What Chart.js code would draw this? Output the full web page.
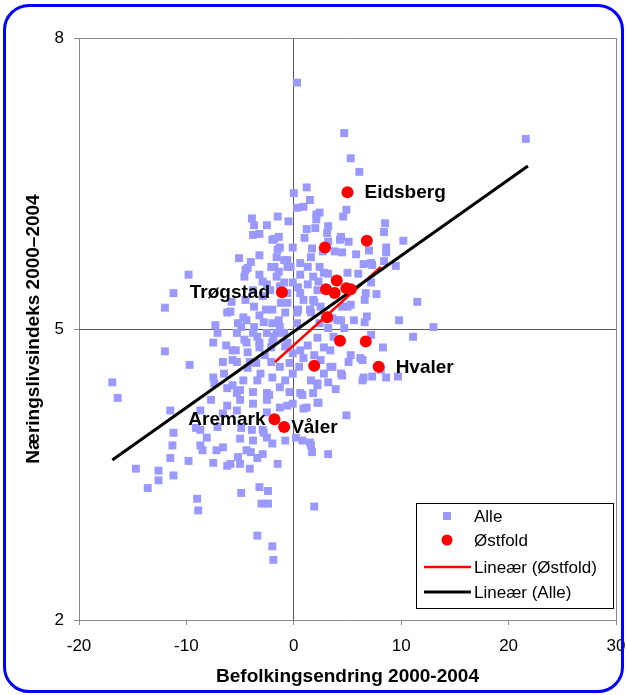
<!DOCTYPE html>
<html>
<head>
<meta charset="utf-8">
<script src="https://cdn.jsdelivr.net/npm/chart.js@4/dist/chart.umd.min.js"></script>
<style>
  html, body { margin: 0; padding: 0; background: #fff; }
  #wrap { position: relative; width: 627px; height: 695px; }
  #c { position: absolute; left: 0; top: 0; }
  #frame { position: absolute; left: 3px; top: 4px; width: 615px; height: 683px;
           border: 3px solid #0000FF; border-radius: 26px; pointer-events: none; }
</style>
</head>
<body>
<div id="wrap">
  <canvas id="c" width="627" height="695"></canvas>
  <div id="frame"></div>
</div>
<script>
// ---- Data ----
const xTitle = 'Befolkingsendring 2000-2004';
const yTitle = 'Næringslivsindeks 2000–2004';
const xTicks = [-20, -10, 0, 10, 20, 30];
const yTicks = [2, 5, 8];

const alleX = [
 0.3,4.7,21.6,5.3,6.1,0.0,1.2,1.5,0.3,0.9,
 4.9,4.6,2.4,2.1,-1.5,-0.5,8.5,8.4,10.2,3.2,
 1.2,3.1,1.0,4.4,5.1,3.2,-1.8,8.6,8.6,7.0,
 9.5,8.4,5.8,6.5,7.3,11.5,9.8,13.0,7.2,7.7,
 6.6,6.6,5.6,5.0,4.1,2.7,2.8,1.6,-0.3,-0.9,
 -2.1,-3.9,-3.7,-2.5,-3.8,2.1,2.0,-1.4,-1.3,4.3,
 -5.1,-3.2,-4.0,-1.6,-0.1,1.7,4.5,-9.8,-11.2,-12.0,
 -4.6,-3.2,-1.8,-0.6,0.6,1.8,2.4,-2.5,-3.8,-5.8,
 -6.2,-7.3,-5.2,-4.4,-3.2,-2.0,-0.8,0.3,1.5,1.8,
 0.6,-0.6,-0.1,-1.6,-3.8,-2.5,-1.3,2.4,3.6,4.5,
 -12.0,-9.7,-16.9,-16.4,-11.5,-7.5,-7.1,-7.5,-5.3,-5.7,
 -6.6,-5.3,-4.1,-2.7,-4.4,-3.2,-2.0,-0.6,-1.6,-0.1,
 -0.4,-0.1,-2.0,-3.4,-4.7,-6.2,-5.0,-3.8,-2.5,-1.3,
 -0.4,0.6,1.8,2.2,1.2,-0.1,-1.3,-2.5,-3.8,-5.0,
 -6.2,-6.6,-2.5,4.9,-8.7,-11.2,-11.3,-11.5,-9.8,-8.7,
 -8.1,-8.7,-8.5,-7.2,-6.6,-7.5,-6.2,-5.0,-4.1,-3.4,
 -4.4,-5.0,-3.8,-2.5,-2.0,-0.8,-2.9,-1.5,1.5,1.7,
 3.2,-14.7,-12.6,-12.6,-11.2,-13.6,-9.0,-8.9,-4.9,-3.2,
 -2.4,-3.0,-2.4,1.9,-3.4,-2.0,-1.9,11.1,8.3,5.3,
 6.4,5.1,3.4,4.5,6.4,7.3,8.6,9.7,2.2,3.9,
 3.2,2.3,0.9,0.8,1.6,-5.9,-4.7,-3.7,-2.6,-4.9,
 -3.7,-3.4,-4.6,-5.4,-4.3,-3.2,-2.1,-1.9,-2.1,-3.5,
 -4.3,-6.5,-1.2,-1.4,-0.9,0.4,1.3,2.2,0.9,1.9,
 0.4,1.6,2.5,5.3,4.4,3.2,2.2,1.3,2.8,0.9,
 1.9,6.2,7.2,0.5,3.6,2.8,4.4,6.5,3.2,6.0,
 5.0,1.3,3.8,7.2,-4.5,-2.0,-1.5,-1.4,-0.6,-5.7,
 -2.3,-0.6,0.8,2.2,-9.1,-7.1,-4.9,-2.8,0.2,-5.2,
 -4.0,-5.9,-7.7,-5.3,0.6,2.3,-0.9,-2.9,-4.5,-2.0,
 -2.8,-5.3,-3.9,-1.3,-5.7,-3.1,-0.8,6.7,6.8,4.7,
 3.7,3.4,8.1,-7.4,-2.9,-3.2,-4.3,-1.3,-2.9,-0.6,
 -2.2,0.3,-0.8,0.6,-6.3,1.6,2.5
];
const alleY = [
 7.54,7.02,6.96,6.76,6.62,6.40,6.46,6.33,6.25,6.26,
 6.23,6.16,6.20,6.13,6.16,6.11,6.09,6.00,5.91,6.06,
 6.03,5.99,5.94,5.95,5.90,5.90,5.93,5.84,5.79,5.81,
 5.65,5.70,5.77,5.67,5.66,5.28,5.09,5.02,5.48,5.36,
 5.30,5.07,5.09,5.23,5.09,5.80,5.58,5.74,5.64,5.71,
 5.64,6.14,6.07,6.07,5.97,6.18,6.04,5.95,5.84,5.92,
 5.73,5.76,5.69,5.74,5.84,5.83,5.79,5.56,5.37,5.22,
 5.54,5.56,5.64,5.64,5.68,5.54,5.64,5.46,5.40,5.28,
 5.17,5.04,5.06,5.09,5.14,5.20,5.17,5.17,5.20,5.30,
 5.37,5.37,5.48,5.54,4.96,4.96,5.02,5.06,5.11,5.23,
 4.77,4.63,4.45,4.29,4.16,4.50,4.96,4.86,4.96,4.78,
 4.66,4.66,4.66,4.73,4.86,4.86,4.86,4.86,4.96,4.75,
 4.65,4.54,4.50,4.47,4.47,4.39,4.37,4.35,4.34,4.40,
 4.35,4.34,4.34,4.24,4.19,4.23,4.19,4.27,4.23,4.27,
 4.21,4.13,4.14,4.11,4.16,3.93,3.80,3.67,3.64,3.96,
 3.88,3.80,3.75,3.75,3.78,3.62,3.59,3.61,3.56,3.67,
 3.75,3.87,3.85,3.88,3.82,3.85,3.96,3.61,3.83,3.73,
 3.71,3.56,3.54,3.44,3.49,3.36,3.25,3.13,3.31,3.37,
 3.33,3.20,3.20,3.17,2.87,2.76,2.62,4.92,4.81,4.73,
 4.68,4.66,4.61,4.52,4.47,4.51,4.50,4.51,4.44,4.38,
 4.45,4.24,4.18,3.85,3.80,5.18,5.12,5.23,5.20,5.02,
 5.02,4.92,4.89,4.78,4.76,4.81,4.81,4.92,4.66,4.65,
 4.60,4.54,5.27,5.09,4.96,5.43,5.46,5.40,5.30,5.28,
 5.20,5.17,5.23,5.25,5.09,5.01,4.91,4.83,4.81,4.70,
 4.73,4.70,4.94,4.61,4.61,4.54,4.54,4.50,5.57,5.57,
 5.58,5.64,5.80,5.68,5.61,5.92,5.82,5.59,5.71,4.42,
 4.32,4.21,4.32,4.42,3.98,3.99,3.98,3.93,3.88,3.68,
 3.73,3.61,4.27,4.34,5.56,5.49,5.48,5.34,5.30,5.06,
 5.07,4.16,3.96,4.61,4.68,4.54,4.82,5.37,5.13,5.01,
 4.92,4.78,4.58,4.44,3.71,5.98,5.63,5.44,5.49,5.27,
 5.40,5.06,4.47,4.78,4.83,4.47,4.68
];

const ostfoldX = [5.0, 6.8, 2.9, -1.1, 4.0, 3.0, 3.8, 4.9, 5.3, 3.1, 4.3, 6.7, 1.9, 7.9, -1.8, -0.9];
const ostfoldY = [6.41, 5.91, 5.84, 5.38, 5.50, 5.41, 5.37, 5.42, 5.41, 5.12, 4.88, 4.87, 4.62, 4.61, 4.07, 3.99];
const ostfoldNames = ['Eidsberg','','','Trøgstad','','','','','','','','','','Hvaler','Aremark','Våler'];

// trend lines: end points
const trendAlleX = [-16.9, 21.8];
const trendAlleY = [3.65, 6.68];
const trendOstX = [-1.75, 8.1];
const trendOstY = [4.66, 5.64];

// ---- Styles ----
const FONT = '"Liberation Sans", Arial, Helvetica, sans-serif';
Chart.defaults.font.family = FONT;
Chart.defaults.color = '#000';

const labelPlacement = {
  'Eidsberg': { side: 'right', gap: 17 },
  'Trøgstad': { side: 'left',  gap: 12 },
  'Hvaler':   { side: 'right', gap: 17 },
  'Aremark':  { side: 'left',  gap: 9 },
  'Våler':    { side: 'right', gap: 7 }
};

const toPts = (xs, ys) => xs.map((x, i) => ({ x, y: ys[i] }));

const pointLabelPlugin = {
  id: 'pointLabels',
  afterDatasetsDraw(chart) {
    const idx = chart.data.datasets.findIndex(d => d.label === 'Østfold');
    const meta = chart.getDatasetMeta(idx);
    const ctx = chart.ctx;
    ctx.save();
    ctx.font = 'bold 19px ' + FONT;
    ctx.fillStyle = '#000';
    ctx.textBaseline = 'middle';
    ostfoldNames.forEach((name, i) => {
      if (!name) return;
      const el = meta.data[i];
      const p = labelPlacement[name];
      if (p.side === 'right') { ctx.textAlign = 'left'; ctx.fillText(name, el.x + p.gap, el.y + 1); }
      else { ctx.textAlign = 'right'; ctx.fillText(name, el.x - p.gap, el.y + 1); }
    });
    ctx.restore();
  }
};

const legendPlugin = {
  id: 'boxLegend',
  afterDraw(chart) {
    const { ctx, chartArea: a } = chart;
    const w = 197, h = 105, x = a.right - 3 - w, y = a.bottom - 12 - h;
    ctx.save();
    ctx.fillStyle = '#fff';
    ctx.fillRect(x, y, w, h);
    ctx.strokeStyle = '#000';
    ctx.lineWidth = 1;
    ctx.strokeRect(Math.round(x) + 0.5, Math.round(y) + 0.5, w, h);
    const order = ['Alle', 'Østfold', 'Lineær (Østfold)', 'Lineær (Alle)'];
    const rows = [13, 37, 64, 89];
    ctx.font = '17px ' + FONT;
    ctx.textBaseline = 'middle';
    ctx.textAlign = 'left';
    order.forEach((lab, i) => {
      const ds = chart.data.datasets.find(d => d.label === lab);
      const cy = y + rows[i], cx = x + 31;
      if (ds.type === 'line') {
        ctx.strokeStyle = ds.borderColor;
        ctx.lineWidth = ds.borderWidth;
        ctx.beginPath(); ctx.moveTo(x + 8, cy); ctx.lineTo(x + 55, cy); ctx.stroke();
      } else if (ds.pointStyle === 'rect') {
        ctx.fillStyle = ds.backgroundColor;
        ctx.fillRect(cx - 4, cy - 4, 8, 8);
      } else {
        ctx.fillStyle = ds.backgroundColor;
        ctx.beginPath(); ctx.arc(cx, cy, 5.5, 0, Math.PI * 2); ctx.fill();
      }
      ctx.fillStyle = '#000';
      ctx.fillText(lab, x + 58, cy + 1);
    });
    ctx.restore();
  }
};

const gridColorX = c => {
  const v = c.tick && c.tick.value;
  if (v === 0) return '#5a5a5a';
  if (v === xTicks[0] || v === xTicks[xTicks.length - 1]) return '#888888';
  return 'rgba(0,0,0,0)';
};
const gridColorY = c => {
  const v = c.tick && c.tick.value;
  if (v === 5) return '#5a5a5a';
  if (v === yTicks[0] || v === yTicks[yTicks.length - 1]) return '#888888';
  return 'rgba(0,0,0,0)';
};

new Chart(document.getElementById('c'), {
  type: 'scatter',
  data: {
    datasets: [
      { label: 'Østfold', data: toPts(ostfoldX, ostfoldY), pointStyle: 'circle',
        pointRadius: 6, pointHoverRadius: 6, backgroundColor: '#FF0000', borderWidth: 0, order: 0 },
      { label: 'Lineær (Alle)', type: 'line', data: toPts(trendAlleX, trendAlleY),
        borderColor: '#000000', borderWidth: 3, pointRadius: 0, fill: false, order: 1 },
      { label: 'Lineær (Østfold)', type: 'line', data: toPts(trendOstX, trendOstY),
        borderColor: '#FF0000', borderWidth: 2.5, pointRadius: 0, fill: false, order: 2 },
      { label: 'Alle', data: toPts(alleX, alleY), pointStyle: 'rect',
        pointRadius: 5.6, pointHoverRadius: 5.6, backgroundColor: '#9999FF', borderWidth: 0, order: 3 }
    ]
  },
  options: {
    responsive: false,
    animation: false,
    events: [],
    layout: { padding: { left: 0, top: 38, right: 11, bottom: 0 } },
    plugins: { legend: { display: false }, tooltip: { enabled: false } },
    scales: {
      x: {
        type: 'linear', min: xTicks[0], max: xTicks[xTicks.length - 1],
        afterBuildTicks: s => { s.ticks = xTicks.map(v => ({ value: v })); },
        afterFit: s => { s.height = 75; s.paddingLeft = 0; s.paddingRight = 0; },
        ticks: { font: { size: 17 }, color: '#000', padding: 11 },
        grid: { color: gridColorX, lineWidth: 1, tickLength: 5, tickColor: '#888888' },
        border: { display: false },
        title: { display: true, text: xTitle, color: '#000',
                 font: { size: 19, weight: 'bold' }, padding: { top: 0, bottom: 7 } }
      },
      y: {
        type: 'linear', min: yTicks[0], max: yTicks[yTicks.length - 1],
        afterBuildTicks: s => { s.ticks = yTicks.map(v => ({ value: v })); },
        afterFit: s => { s.width = 79; s.paddingTop = 0; s.paddingBottom = 0; },
        ticks: { font: { size: 17 }, color: '#000', padding: 10 },
        grid: { color: gridColorY, lineWidth: 1, tickLength: 5, tickColor: '#888888' },
        border: { display: false },
        title: { display: true, text: yTitle, color: '#000',
                 font: { size: 19, weight: 'bold' }, padding: { top: 22, bottom: 0 } }
      }
    }
  },
  plugins: [pointLabelPlugin, legendPlugin]
});
</script>
</body>
</html>
